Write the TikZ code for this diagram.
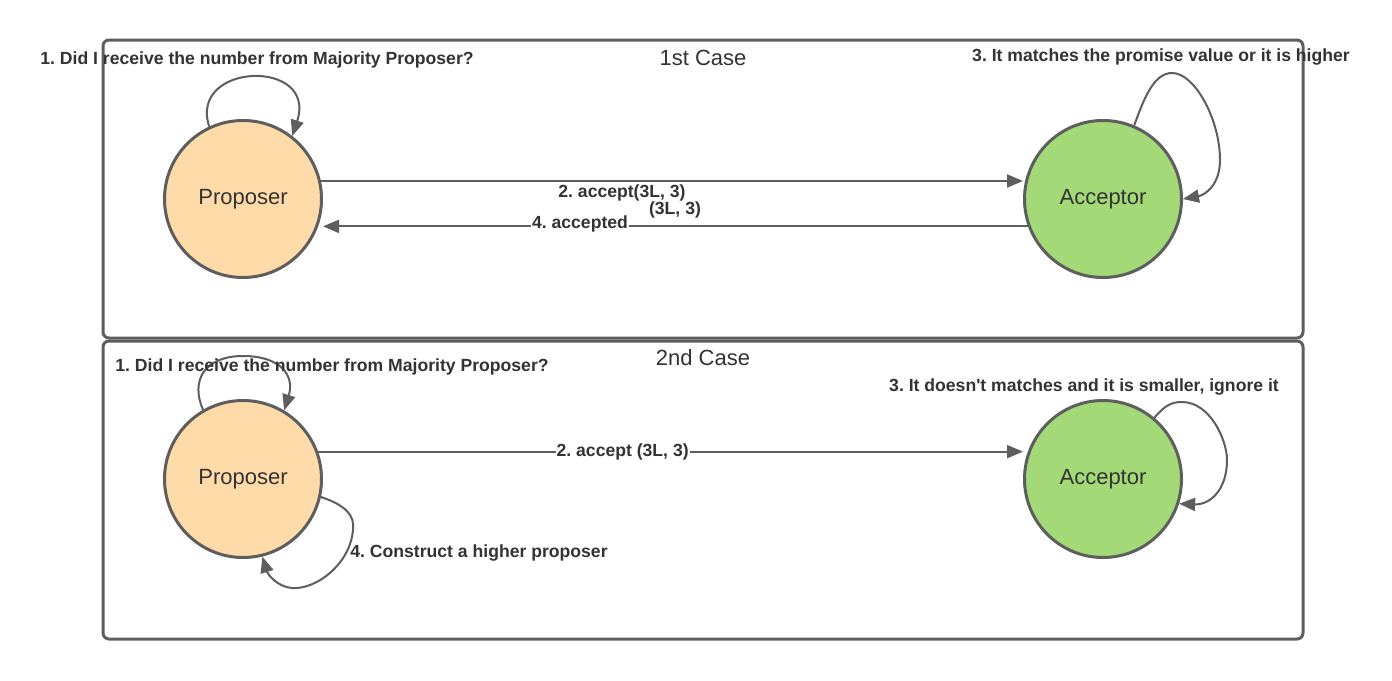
\documentclass[tikz,border=0pt]{standalone}
\usepackage{fontspec}
\setmainfont{Liberation Sans}
\usetikzlibrary{arrows.meta}
\definecolor{ln}{HTML}{5E5E5E}
\definecolor{tx}{HTML}{333333}
\definecolor{prop}{HTML}{FFDBA9}
\definecolor{acc}{HTML}{A3D977}
\frenchspacing
\tikzset{
  casebox/.style={draw=ln,line width=3pt,rounded corners=6pt},
  state/.style={circle,draw=ln,line width=3pt,minimum size=157pt,inner sep=0pt,text=tx,font=\fontsize{22}{26}\selectfont},
  conn/.style={draw=ln,line width=2pt,-{Triangle[length=16pt,width=13pt]}},
  lbl/.style={text=tx,font=\fontsize{17.6}{20}\selectfont\bfseries,inner sep=1pt},
  title/.style={text=tx,font=\fontsize{22}{26}\selectfont,inner sep=0pt}
}
\begin{document}
\begin{tikzpicture}[x=1pt,y=-1pt]
\useasboundingbox (0,0) rectangle (1392,680);
\fill[white] (0,0) rectangle (1392,680);
% boxes
\draw[casebox] (103,40) rectangle (1303,338);
\draw[casebox] (103,341) rectangle (1303,639);
\node[title] (t1) at (703,58) {1st Case};
\node[title] (t2) at (703,358) {2nd Case};
% states
\node[state,fill=prop] (p1) at (243,199) {Proposer};
\node[state,fill=acc] (a1) at (1103,199) {Acceptor};
\node[state,fill=prop] (p2) at (243,479) {Proposer};
\node[state,fill=acc] (a2) at (1103,479) {Acceptor};
% case 1 connectors
\draw[conn] (p1.13.7) -- (p1.13.7 -| a1.west);
\draw[conn] (a1.-160.3) -- (a1.-160.3 -| p1.east);
\node[lbl] (l2) at (622,193) {2. accept(3L, 3)};
\node[lbl] (l2b) at (675,210) {(3L, 3)};
\node[lbl,fill=white] (l4) at (580,224) {4. accepted};
\draw[conn] (p1.115.3) .. controls (188,62) and (318,58) .. (p1.52.9);
\draw[conn] (a1.67.3) .. controls (1145,95) and (1155,73) .. (1172,73)
   .. controls (1195,73) and (1220,120) .. (1220,160)
   .. controls (1220,185) and (1205,195) .. (a1.0.7);
\node[lbl] (l1) at (257,60) {1. Did I receive the number from Majority Proposer?};
\node[lbl] (l3) at (1161,57) {3. It matches the promise value or it is higher};
% case 2 connectors
\draw[conn] (p2.20.5) -- node[lbl,fill=white,pos=0.432] (m2) {2. accept (3L, 3)} (p2.20.5 -| a2.west);
\draw[conn] (p2.120.7) .. controls (190,380) and (205,356) .. (243,356)
   .. controls (280,356) and (295,375) .. (p2.59.4);
\draw[conn] (a2.50.5) .. controls (1165,405) and (1172,402) .. (1182,402)
   .. controls (1210,402) and (1227,440) .. (1227,460)
   .. controls (1227,490) and (1210,505) .. (a2.-18.2);
\draw[conn] (p2.-13.4) .. controls (345,505) and (355,515) .. (353,530)
   .. controls (350,565) and (315,590) .. (292,588)
   .. controls (278,587) and (268,575) .. (p2.-76.8);
\node[lbl] (k1) at (332,367) {1. Did I receive the number from Majority Proposer?};
\node[lbl] (k3) at (1084,387) {3. It doesn\textquotesingle t matches and it is smaller, ignore it};
\node[lbl] (k4) at (479,553) {4. Construct a higher proposer};
\end{tikzpicture}
\end{document}
